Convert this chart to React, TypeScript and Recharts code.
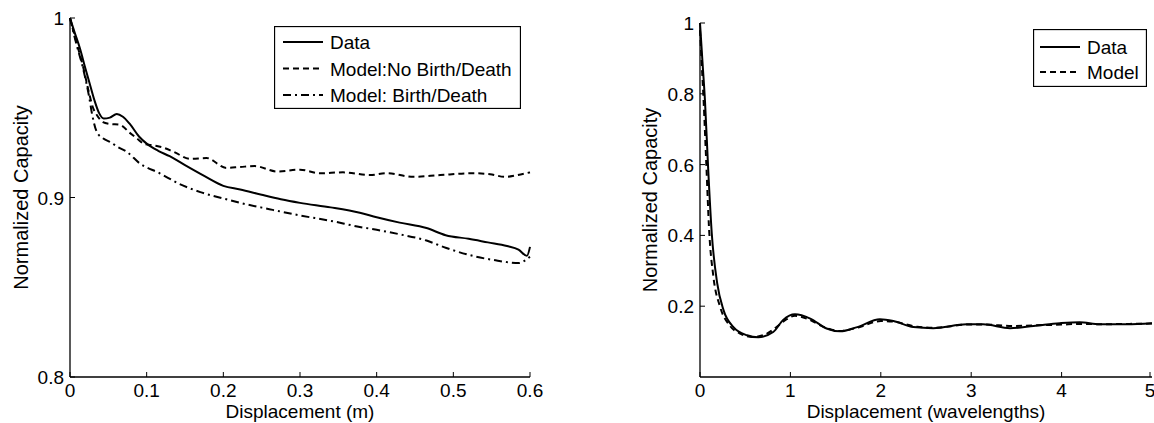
import { LineChart, Line, XAxis, YAxis, Legend } from "recharts";

const FONT = "'Liberation Sans', Arial, Helvetica, sans-serif";

// left panel: capacity vs displacement (m)
const dispTicks = [0, 0.1, 0.2, 0.3, 0.4, 0.5, 0.6];
const capTicksLeft = [0.8, 0.9, 1];

const dataX = [0, 0.006, 0.013, 0.02, 0.026, 0.032, 0.038, 0.044, 0.052, 0.061, 0.069, 0.078, 0.09, 0.1, 0.115, 0.13, 0.15, 0.175, 0.2, 0.222, 0.25, 0.275, 0.3, 0.34, 0.378, 0.4, 0.43, 0.465, 0.49, 0.52, 0.545, 0.57, 0.585, 0.596, 0.6];
const dataY = [1.0, 0.992, 0.983, 0.972, 0.963, 0.954, 0.947, 0.944, 0.9445, 0.9465, 0.945, 0.941, 0.934, 0.93, 0.926, 0.923, 0.918, 0.912, 0.9065, 0.9045, 0.9015, 0.899, 0.897, 0.8945, 0.8915, 0.889, 0.886, 0.883, 0.879, 0.877, 0.875, 0.873, 0.871, 0.8675, 0.8725];

const noBdX = [0, 0.008, 0.017, 0.025, 0.03, 0.035, 0.043, 0.052, 0.065, 0.078, 0.087, 0.096, 0.109, 0.12, 0.135, 0.157, 0.178, 0.204, 0.222, 0.241, 0.27, 0.3, 0.326, 0.356, 0.391, 0.413, 0.448, 0.483, 0.526, 0.548, 0.567, 0.583, 0.6];
const noBdY = [1.0, 0.987, 0.973, 0.958, 0.95, 0.946, 0.942, 0.941, 0.9405, 0.936, 0.933, 0.93, 0.929, 0.928, 0.9255, 0.9215, 0.922, 0.9165, 0.917, 0.9175, 0.9145, 0.9155, 0.9135, 0.914, 0.9125, 0.9135, 0.9115, 0.9125, 0.9135, 0.913, 0.9115, 0.9125, 0.914];

const bdX = [0, 0.008, 0.017, 0.025, 0.029, 0.035, 0.043, 0.052, 0.063, 0.074, 0.091, 0.117, 0.143, 0.17, 0.204, 0.222, 0.26, 0.3, 0.34, 0.378, 0.4, 0.43, 0.465, 0.49, 0.53, 0.555, 0.57, 0.585, 0.6];
const bdY = [1.0, 0.986, 0.972, 0.956, 0.946, 0.9365, 0.933, 0.931, 0.928, 0.9255, 0.919, 0.9135, 0.9075, 0.903, 0.899, 0.897, 0.8935, 0.89, 0.887, 0.8836, 0.882, 0.8795, 0.876, 0.872, 0.867, 0.865, 0.864, 0.8635, 0.867];

// right panel: capacity vs displacement (wavelengths)
const waveTicks = [0, 1, 2, 3, 4, 5];
const capTicksRight = [0.2, 0.4, 0.6, 0.8, 1];

const waveDataX = [0, 0.03, 0.055, 0.09, 0.13, 0.19, 0.26, 0.37, 0.52, 0.645, 0.81, 0.92, 1.05, 1.22, 1.4, 1.55, 1.74, 1.99, 2.14, 2.36, 2.58, 2.95, 3.13, 3.43, 3.69, 3.98, 4.2, 4.42, 4.72, 5];
const waveDataY = [1, 0.88, 0.78, 0.59, 0.406, 0.265, 0.189, 0.141, 0.118, 0.112, 0.127, 0.161, 0.177, 0.165, 0.137, 0.129, 0.141, 0.163, 0.158, 0.141, 0.138, 0.149, 0.149, 0.138, 0.144, 0.152, 0.155, 0.149, 0.149, 0.152];

const waveModelX = [0, 0.02, 0.04, 0.07, 0.1, 0.15, 0.22, 0.33, 0.45, 0.58, 0.72, 0.85, 0.95, 1.05, 1.2, 1.4, 1.55, 1.75, 2.0, 2.15, 2.4, 2.6, 2.95, 3.15, 3.45, 3.7, 4.0, 4.2, 4.45, 4.75, 5];
const waveModelY = [0.98, 0.88, 0.78, 0.6, 0.42, 0.28, 0.2, 0.145, 0.122, 0.113, 0.12, 0.142, 0.162, 0.173, 0.163, 0.138, 0.13, 0.14, 0.158, 0.156, 0.142, 0.139, 0.148, 0.148, 0.144, 0.146, 0.148, 0.15, 0.149, 0.15, 0.151];

const zip = (xs: number[], ys: number[]) => xs.map((x, i) => ({ x, y: ys[i] }));

const SOLID = undefined;
const DASHED = "6 4";
const DASHDOT = "8 4 2 4";

const leftSeries = [
  { name: "Data", dash: SOLID, points: zip(dataX, dataY) },
  { name: "Model:No Birth/Death", dash: DASHED, points: zip(noBdX, noBdY) },
  { name: "Model: Birth/Death", dash: DASHDOT, points: zip(bdX, bdY) },
];

const rightSeries = [
  { name: "Data", dash: SOLID, points: zip(waveDataX, waveDataY) },
  { name: "Model", dash: DASHED, points: zip(waveModelX, waveModelY) },
];

const textProps = { fontFamily: FONT, fill: "#000" };

function BottomTick({ x, y, payload }: any) {
  return (
    <g>
      <line x1={x} y1={y} x2={x} y2={y - 5} stroke="#000" strokeWidth={1} />
      <text x={x} y={y + 19.5} textAnchor="middle" fontSize={19} {...textProps}>
        {String(payload.value)}
      </text>
    </g>
  );
}

function LeftTick({ x, y, payload }: any) {
  return (
    <g>
      <line x1={x} y1={y} x2={x + 5} y2={y} stroke="#000" strokeWidth={1} />
      <text x={x - 6} y={y + 7} textAnchor="end" fontSize={19} {...textProps}>
        {String(payload.value)}
      </text>
    </g>
  );
}

function TopTick({ x, y }: any) {
  return <line x1={x} y1={y} x2={x} y2={y + 5} stroke="#000" strokeWidth={1} />;
}

function RightTick({ x, y }: any) {
  return <line x1={x} y1={y} x2={x - 5} y2={y} stroke="#000" strokeWidth={1} />;
}

function BoxLegend({ items, width, height, firstRow, rowStep, lineX1, lineX2, textX }: any) {
  return (
    <svg width={width} height={height} style={{ display: "block" }}>
      <rect x={0.5} y={0.5} width={width - 1} height={height - 1} fill="#fff" stroke="#000" strokeWidth={1.3} />
      {items.map((it: any, i: number) => {
        const cy = firstRow + i * rowStep;
        return (
          <g key={it.name}>
            <line x1={lineX1} y1={cy} x2={lineX2} y2={cy} stroke="#000" strokeWidth={2} strokeDasharray={it.dash} />
            <text x={textX} y={cy + 7} fontSize={19} {...textProps}>
              {it.name}
            </text>
          </g>
        );
      })}
    </svg>
  );
}

const axisLine = { stroke: "#000", strokeWidth: 1.3 };
const labelStyle = { fontSize: 19, fontFamily: FONT, fill: "#000" };
const yLabelStyle = { fontSize: 20, fontFamily: FONT, fill: "#000", textAnchor: "middle" };

export default function App() {
  return (
    <div style={{ position: "absolute", left: 0, top: 0, width: 1154, height: 423, background: "#fff", overflow: "hidden" }}>
      <div style={{ position: "absolute", left: 0, top: 0 }}>
        <LineChart width={560} height={423} margin={{ top: 18, right: 30, bottom: 0, left: 0 }}>
          <XAxis
            type="number"
            dataKey="x"
            domain={[0, 0.6]}
            ticks={dispTicks}
            height={46}
            tickSize={0}
            tickMargin={0}
            axisLine={axisLine}
            tickLine={false}
            tick={<BottomTick />}
            label={{ value: "Displacement (m)", position: "insideBottom", offset: 5, style: labelStyle }}
          />
          <XAxis
            xAxisId="top"
            orientation="top"
            type="number"
            dataKey="x"
            domain={[0, 0.6]}
            ticks={dispTicks}
            height={0}
            tickSize={0}
            tickMargin={0}
            axisLine={axisLine}
            tickLine={false}
            tick={<TopTick />}
          />
          <YAxis
            type="number"
            domain={[0.8, 1]}
            ticks={capTicksLeft}
            width={70}
            tickSize={0}
            tickMargin={0}
            axisLine={axisLine}
            tickLine={false}
            tick={<LeftTick />}
            label={{ value: "Normalized Capacity", angle: -90, position: "insideLeft", offset: 21, style: yLabelStyle }}
          />
          <YAxis
            yAxisId="right"
            orientation="right"
            type="number"
            domain={[0.8, 1]}
            ticks={capTicksLeft}
            width={0}
            tickSize={0}
            tickMargin={0}
            axisLine={axisLine}
            tickLine={false}
            tick={<RightTick />}
          />
          {leftSeries.map((s) => (
            <Line
              key={s.name}
              data={s.points}
              dataKey="y"
              name={s.name}
              type="monotone"
              stroke="#000"
              strokeWidth={2}
              strokeDasharray={s.dash}
              dot={false}
              isAnimationActive={false}
            />
          ))}
          <Legend
            layout="vertical"
            align="center"
            verticalAlign="middle"
            wrapperStyle={{ left: 274, top: 26, width: 247, height: 83 }}
            content={() => (
              <BoxLegend items={leftSeries} width={247} height={83} firstRow={16} rowStep={26.5} lineX1={9} lineX2={49} textX={56} />
            )}
          />
        </LineChart>
      </div>

      <div style={{ position: "absolute", left: 620, top: 0 }}>
        <LineChart width={534} height={423} margin={{ top: 23, right: 2, bottom: 0, left: 0 }}>
          <XAxis
            type="number"
            dataKey="x"
            domain={[0, 5]}
            ticks={waveTicks}
            height={46}
            tickSize={0}
            tickMargin={0}
            axisLine={axisLine}
            tickLine={false}
            tick={<BottomTick />}
            label={{ value: "Displacement (wavelengths)", position: "insideBottom", offset: 5, style: labelStyle }}
          />
          <XAxis
            xAxisId="top"
            orientation="top"
            type="number"
            dataKey="x"
            domain={[0, 5]}
            ticks={waveTicks}
            height={0}
            tickSize={0}
            tickMargin={0}
            axisLine={axisLine}
            tickLine={false}
            tick={<TopTick />}
          />
          <YAxis
            type="number"
            domain={[0, 1]}
            ticks={capTicksRight}
            width={80}
            tickSize={0}
            tickMargin={0}
            axisLine={axisLine}
            tickLine={false}
            tick={<LeftTick />}
            label={{ value: "Normalized Capacity", angle: -90, position: "insideLeft", offset: 30, style: yLabelStyle }}
          />
          <YAxis
            yAxisId="right"
            orientation="right"
            type="number"
            domain={[0, 1]}
            ticks={capTicksRight}
            width={0}
            tickSize={0}
            tickMargin={0}
            axisLine={axisLine}
            tickLine={false}
            tick={<RightTick />}
          />
          {rightSeries.map((s) => (
            <Line
              key={s.name}
              data={s.points}
              dataKey="y"
              name={s.name}
              type="monotone"
              stroke="#000"
              strokeWidth={2}
              strokeDasharray={s.dash}
              dot={false}
              isAnimationActive={false}
            />
          ))}
          <Legend
            layout="vertical"
            align="center"
            verticalAlign="middle"
            wrapperStyle={{ left: 413, top: 29, width: 114, height: 58 }}
            content={() => (
              <BoxLegend items={rightSeries} width={114} height={58} firstRow={18} rowStep={25} lineX1={7} lineX2={47} textX={54} />
            )}
          />
        </LineChart>
      </div>
    </div>
  );
}
